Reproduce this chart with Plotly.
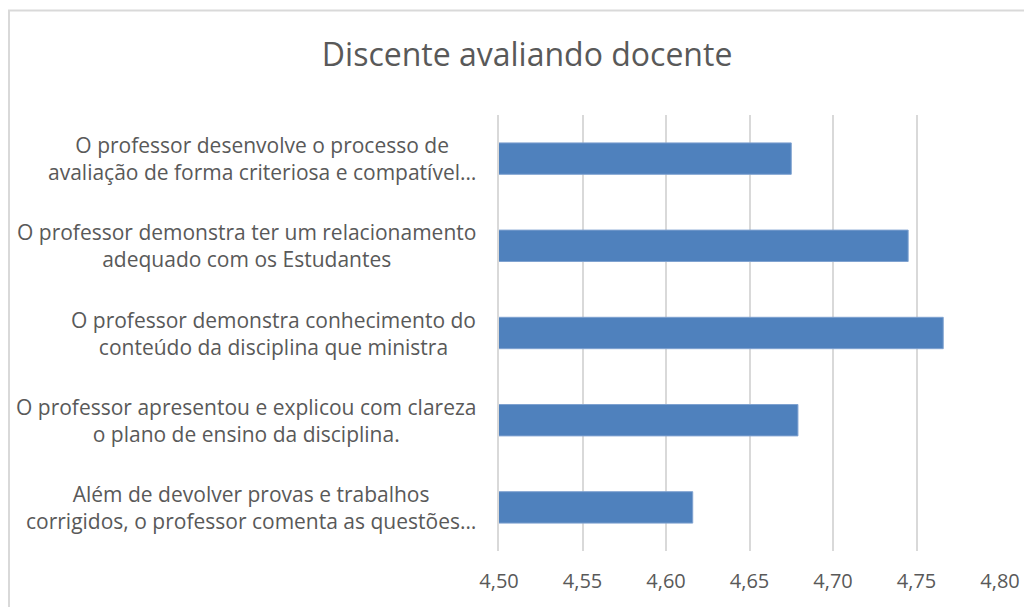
import plotly.graph_objects as go

# data (top to bottom)
perguntas = [
    "O professor desenvolve o processo de<br>avaliação de forma criteriosa e compatível…",
    "O professor demonstra ter um relacionamento<br>adequado com os Estudantes",
    "O professor demonstra conhecimento do<br>conteúdo da disciplina que ministra",
    "O professor apresentou e explicou com clareza<br>o plano de ensino da disciplina.",
    "Além de devolver provas e trabalhos<br>corrigidos, o professor comenta as questões…",
]
medias = [4.675, 4.745, 4.766, 4.679, 4.616]
cats = ["q1", "q2", "q3", "q4", "q5"]

texto = "#595959"
fonte = "Open Sans"

fig = go.Figure(go.Bar(
    x=medias,
    y=cats,
    orientation="h",
    marker=dict(color="#4f81bd", line=dict(color="#7fa2d0", width=1)),
    hoverinfo="x",
))

# category labels as annotations so that each line is centered like in Excel
annotations = []
for c, p in zip(cats, perguntas):
    annotations.append(dict(
        x=-0.042, xref="paper", y=c, yref="y",
        text=p, showarrow=False,
        xanchor="right", yanchor="middle", align="center",
        font=dict(family=fonte, size=21, color=texto),
    ))

# the page body has an 8px margin, so everything is moved up/left by 8px
fig.update_layout(
    width=1032,
    height=607,
    margin=dict(l=491, r=40, t=107, b=64),
    paper_bgcolor="white",
    plot_bgcolor="white",
    separators=",.",
    showlegend=False,
    bargap=0.64,
    title=dict(
        text="Discente avaliando docente",
        x=0.503, xanchor="center",
        y=1 - 47 / 607, yanchor="middle",
        font=dict(family=fonte, size=32, color=texto),
    ),
    xaxis=dict(
        range=[4.5, 4.8],
        dtick=0.05,
        tick0=4.5,
        tickformat=".2f",
        showgrid=True,
        gridcolor="#d9d9d9",
        gridwidth=1.5,
        zeroline=False,
        showline=False,
        ticks="",
        ticklabelstandoff=16,
        tickfont=dict(family=fonte, size=20, color=texto),
    ),
    yaxis=dict(
        autorange="reversed",
        showticklabels=False,
        showgrid=False,
        zeroline=False,
        showline=True,
        linecolor="#d9d9d9",
        linewidth=1.5,
    ),
    annotations=annotations,
    shapes=[dict(
        type="rect", xref="paper", yref="paper",
        x0=-0.978, y0=-0.2, x1=1.1, y1=1.2397,
        line=dict(color="#d9d9d9", width=2),
        fillcolor="rgba(0,0,0,0)",
        layer="below",
    )],
)

fig.write_html("out.html")
